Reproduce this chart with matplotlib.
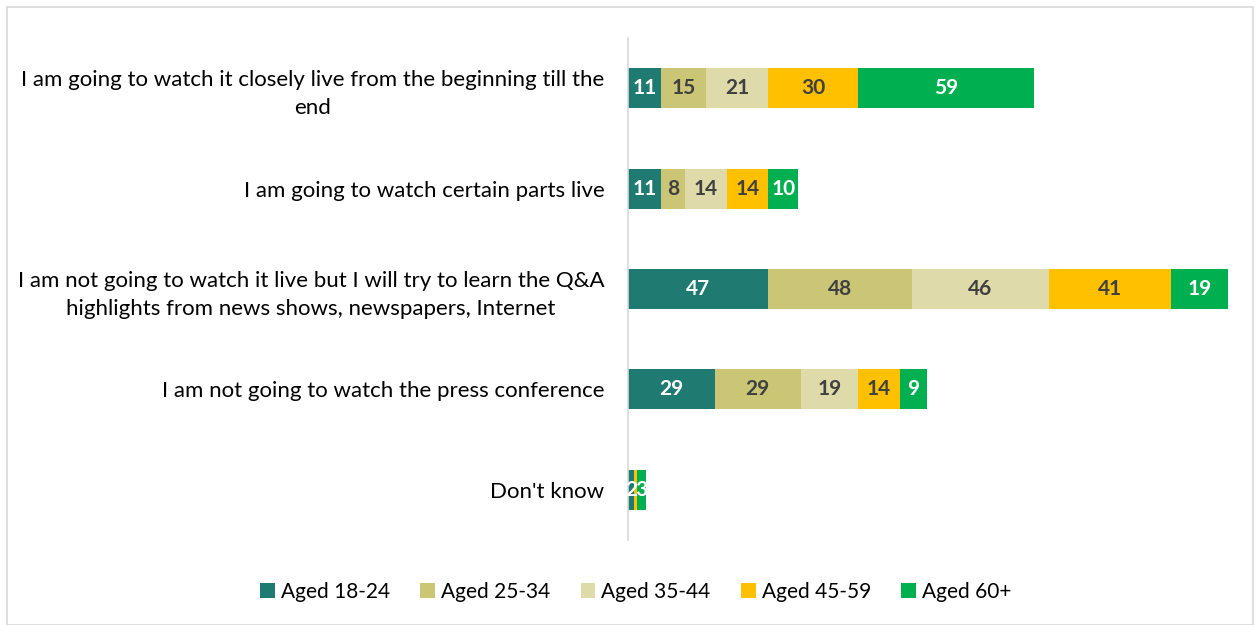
import numpy as np
import matplotlib.pyplot as plt
from matplotlib.patches import Rectangle

categories = [
    "I am going to watch it closely live from the beginning till the\nend",
    "I am going to watch certain parts live",
    "I am not going to watch it live but I will try to learn the Q&A\nhighlights from news shows, newspapers, Internet",
    "I am not going to watch the press conference",
    "Don't know",
]
groups = ["Aged 18-24", "Aged 25-34", "Aged 35-44", "Aged 45-59", "Aged 60+"]
aged_18_24 = [11, 11, 47, 29, 2]
aged_25_34 = [15, 8, 48, 29, 0]
aged_35_44 = [21, 14, 46, 19, 0]
aged_45_59 = [30, 14, 41, 14, 1]
aged_60_plus = [59, 10, 19, 9, 3]

colors = ["#1F7B71", "#CBC676", "#DEDAA9", "#FFC000", "#00B050"]
text_colors = ["white", "#404040", "#404040", "#404040", "white"]

plt.rcParams['font.family'] = ['Lato', 'DejaVu Sans']

fig = plt.figure(figsize=(12.59, 6.25), dpi=100)
fig.patches.append(Rectangle((7 / 1259, 0), 1246 / 1259, 618 / 625,
                             transform=fig.transFigure, fill=False,
                             edgecolor="#D9D9D9", linewidth=1.2))

ax = fig.add_axes([628 / 1259, 85 / 625, 612 / 1259, 502 / 625])

series = [aged_18_24, aged_25_34, aged_35_44, aged_45_59, aged_60_plus]
y = np.arange(len(categories))
left = np.zeros(len(categories))
for vals, name, col, tcol in zip(series, groups, colors, text_colors):
    vals = np.array(vals, dtype=float)
    bars = ax.barh(y, vals, left=left, height=0.4, color=col, label=name)
    for b, v in zip(bars, vals):
        if v >= 2:
            ax.text(b.get_x() + b.get_width() / 2, b.get_y() + b.get_height() / 2,
                    f"{v:.0f}", ha="center", va="center", color=tcol,
                    fontsize=15, fontweight="bold")
    left += vals

ax.set_xlim(0, 205)
ax.set_ylim(4.5, -0.5)
ax.set_yticks(y)
ax.set_yticklabels(categories, fontsize=16, color="#000000", linespacing=1.5)
ax.tick_params(axis="y", length=0, pad=17)
ax.set_xticks([])
for s in ["top", "right", "bottom"]:
    ax.spines[s].set_visible(False)
ax.spines["left"].set_color("#D9D9D9")
ax.spines["left"].set_linewidth(1.2)
for lbl in ax.get_yticklabels():
    lbl.set_horizontalalignment("right")
    lbl.set_multialignment("center")

fig.legend(loc="center", bbox_to_anchor=(0.505, 33 / 625), ncol=5, frameon=False,
           fontsize=15, handlelength=0.7, handleheight=0.7, handletextpad=0.3,
           columnspacing=1.45)

fig.savefig("out.png", dpi=100)
